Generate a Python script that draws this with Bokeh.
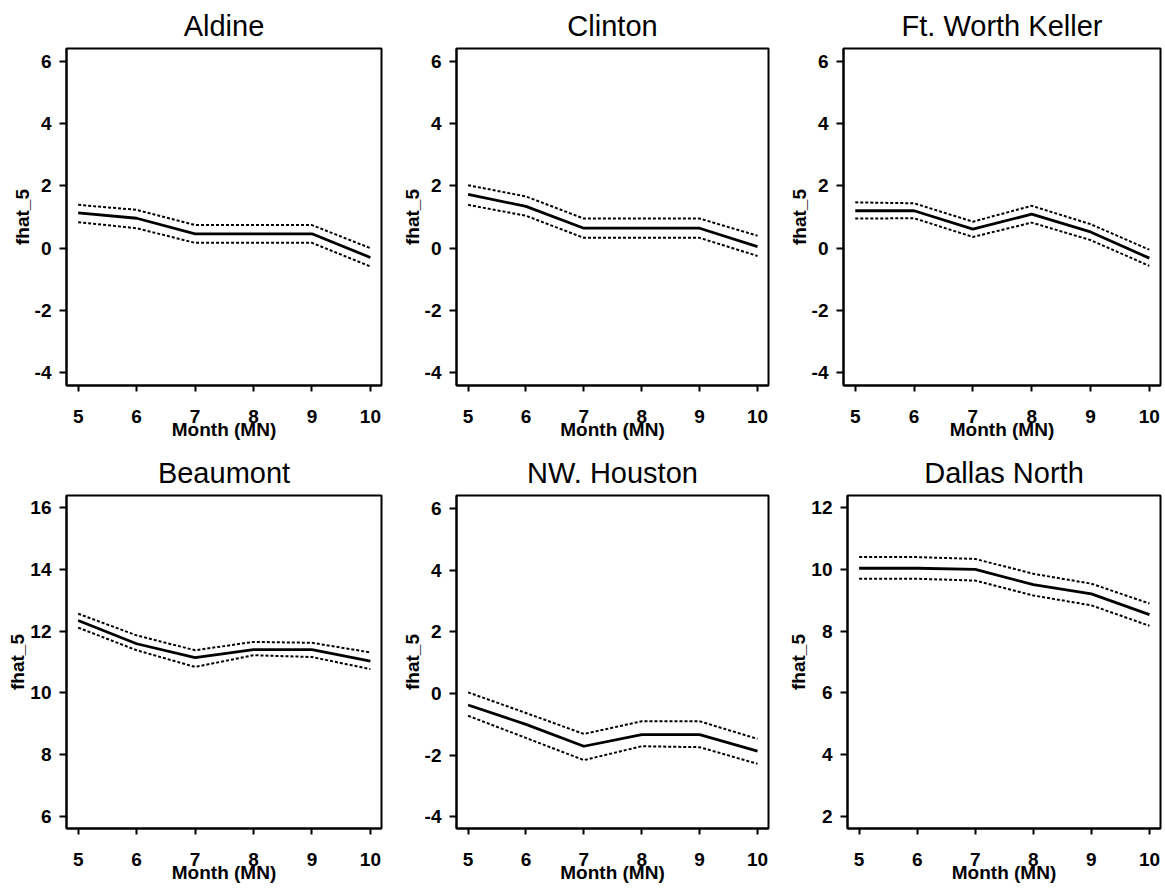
from bokeh.plotting import figure
from bokeh.layouts import column, row
from bokeh.models import FixedTicker, Range1d
from bokeh.embed import file_html
from bokeh.resources import INLINE

months = [5, 6, 7, 8, 9, 10]
x_ticks = [5, 6, 7, 8, 9, 10]

titles = ["Aldine", "Clinton", "Ft. Worth Keller", "Beaumont", "NW. Houston", "Dallas North"]

aldine_fit = [1.13, 0.96, 0.46, 0.46, 0.46, -0.30]
aldine_upper = [1.39, 1.23, 0.74, 0.74, 0.74, 0.00]
aldine_lower = [0.83, 0.64, 0.17, 0.17, 0.17, -0.59]

clinton_fit = [1.73, 1.34, 0.64, 0.64, 0.64, 0.05]
clinton_upper = [2.02, 1.66, 0.95, 0.95, 0.95, 0.40]
clinton_lower = [1.39, 1.04, 0.33, 0.33, 0.33, -0.25]

ftworth_fit = [1.20, 1.20, 0.61, 1.09, 0.52, -0.32]
ftworth_upper = [1.47, 1.44, 0.85, 1.36, 0.77, -0.05]
ftworth_lower = [0.95, 0.96, 0.36, 0.82, 0.26, -0.57]

beaumont_fit = [12.34, 11.59, 11.14, 11.40, 11.40, 11.03]
beaumont_upper = [12.56, 11.86, 11.38, 11.65, 11.62, 11.31]
beaumont_lower = [12.11, 11.38, 10.84, 11.22, 11.16, 10.77]

nwhouston_fit = [-0.37, -1.00, -1.71, -1.33, -1.33, -1.87]
nwhouston_upper = [0.04, -0.63, -1.31, -0.90, -0.90, -1.47]
nwhouston_lower = [-0.72, -1.44, -2.16, -1.71, -1.74, -2.28]

dallas_fit = [10.03, 10.03, 9.99, 9.50, 9.20, 8.53]
dallas_upper = [10.39, 10.39, 10.33, 9.85, 9.53, 8.89]
dallas_lower = [9.69, 9.69, 9.63, 9.15, 8.83, 8.17]

ticks_a = [-4, -2, 0, 2, 4, 6]
ticks_b = [6, 8, 10, 12, 14, 16]
ticks_c = [2, 4, 6, 8, 10, 12]

series = [
    (aldine_fit, aldine_upper, aldine_lower, (-4.41, 6.41), ticks_a),
    (clinton_fit, clinton_upper, clinton_lower, (-4.41, 6.41), ticks_a),
    (ftworth_fit, ftworth_upper, ftworth_lower, (-4.41, 6.41), ticks_a),
    (beaumont_fit, beaumont_upper, beaumont_lower, (5.62, 16.38), ticks_b),
    (nwhouston_fit, nwhouston_upper, nwhouston_lower, (-4.38, 6.43), ticks_a),
    (dallas_fit, dallas_upper, dallas_lower, (1.62, 12.38), ticks_c),
]

FONT = "Liberation Sans"
widths = [398, 387, 377]
lefts = [66, 58, 58]
rights = [17, 17, 2]
heights = [447, 438]
tops = [48, 48]
bottoms = [62, 57]


def make(i):
    fit, up, lo, yr, yt = series[i]
    r, c = divmod(i, 3)
    p = figure(width=widths[c], height=heights[r], output_backend="svg",
               toolbar_location=None, x_range=Range1d(4.8, 10.19),
               y_range=Range1d(*yr), title=titles[i],
               min_border_left=lefts[c], min_border_right=rights[c],
               min_border_top=tops[r], min_border_bottom=bottoms[r])
    p.title.align = "center"
    p.title.text_font = FONT
    p.title.text_font_size = "29px"
    p.title.text_font_style = "normal"
    p.title.text_color = "black"
    p.title.standoff = 13
    p.grid.visible = False
    p.outline_line_color = "black"
    p.outline_line_width = 2
    p.outline_line_alpha = 1.0
    p.background_fill_color = "white"
    p.border_fill_color = "white"
    for ax in (p.xaxis[0], p.yaxis[0]):
        ax.axis_line_width = 2
        ax.major_tick_line_width = 2
        ax.major_tick_in = 0
        ax.minor_tick_line_color = None
        ax.major_label_text_font = FONT
        ax.major_label_text_font_style = "bold"
        ax.major_label_text_font_size = "19px"
        ax.major_label_text_color = "black"
        ax.axis_label_text_font = FONT
        ax.axis_label_text_font_style = "bold"
        ax.axis_label_text_font_size = "19px"
        ax.axis_label_text_color = "black"
    p.xaxis.major_tick_out = 6
    p.yaxis.major_tick_out = 7
    p.xaxis.ticker = FixedTicker(ticks=x_ticks)
    p.yaxis.ticker = FixedTicker(ticks=yt)
    p.yaxis.major_label_overrides = {t: str(t) for t in yt}
    p.xaxis.axis_label = "Month (MN)"
    p.yaxis.axis_label = "fhat_5"
    p.xaxis.major_label_standoff = 18
    p.xaxis.axis_label_standoff = -7
    p.yaxis.major_label_standoff = 8
    p.yaxis.axis_label_standoff = -1
    p.line(months, up, line_color="black", line_width=2, line_dash="3 2")
    p.line(months, lo, line_color="black", line_width=2, line_dash="3 2")
    p.line(months, fit, line_color="black", line_width=2.8)
    return p


plots = [make(i) for i in range(6)]
layout = column(row(*plots[:3]), row(*plots[3:]))
open("out.html", "w").write(file_html(layout, INLINE))
